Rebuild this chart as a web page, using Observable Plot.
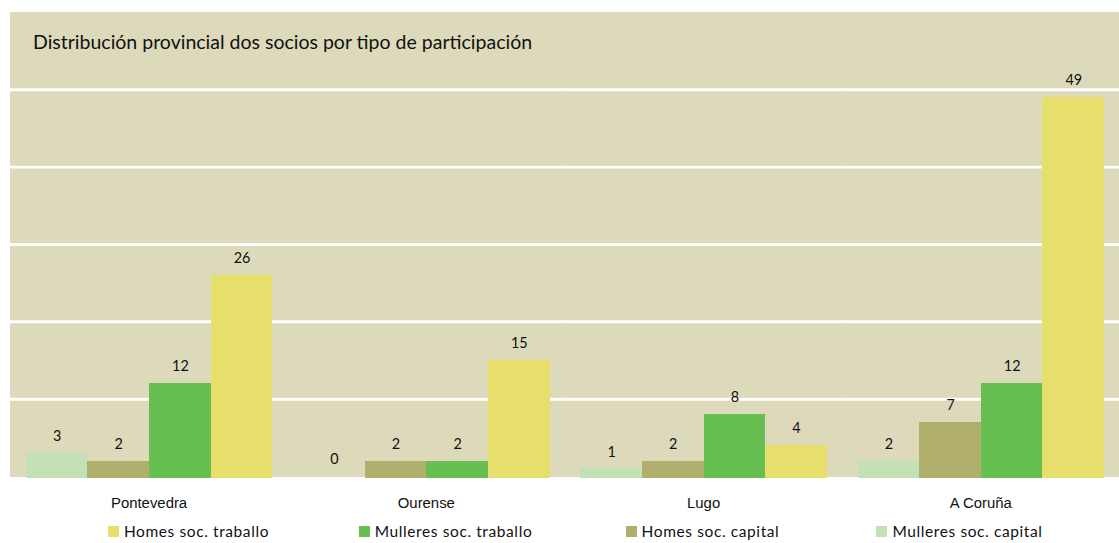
<!DOCTYPE html>
<html>
<head>
<meta charset="utf-8">
<script src="https://cdn.jsdelivr.net/npm/d3@7"></script>
<script src="https://cdn.jsdelivr.net/npm/@observablehq/plot@0.6"></script>
<style>
  html, body { margin: 0; padding: 0; background: #fff; }
  #wrap { position: relative; width: 1119px; height: 543px; overflow: hidden; }
  #title { position: absolute; left: 33px; top: 30px; font-family: Lato, "Noto Sans", sans-serif; font-size: 19.5px; color: #111; white-space: nowrap; }
  #legend { position: absolute; left: 60px; top: 522px; display: flex; }
  .item { width: 257px; height: 19px; display: flex; justify-content: center; align-items: center; font-family: Lato, "Noto Sans", sans-serif; font-size: 15.5px; line-height: 19px; letter-spacing: 0.6px; color: #111; white-space: nowrap; }
  .sw { width: 11px; height: 11px; margin-right: 5px; display: inline-block; }
  #chart svg rect { shape-rendering: crispEdges; }
</style>
</head>
<body>
<div id="wrap">
  <div id="chart"></div>
  <div id="title"></div>
  <div id="legend"></div>
</div>
<script>
const titleText = "Distribución provincial dos socios por tipo de participación";
const provinces = ["Pontevedra", "Ourense", "Lugo", "A Coruña"];
const series = ["Mulleres soc. capital", "Homes soc. capital", "Mulleres soc. traballo", "Homes soc. traballo"];
const colors = ["#C4E0B5", "#B0AF6B", "#67BE51", "#E7DF6B"];
const mulleresCapital = [3, 0, 1, 2];
const homesCapital = [2, 2, 2, 7];
const mulleresTraballo = [12, 2, 8, 12];
const homesTraballo = [26, 15, 4, 49];
const legendOrder = ["Homes soc. traballo", "Mulleres soc. traballo", "Homes soc. capital", "Mulleres soc. capital"];
const gridTicks = [10, 20, 30, 40, 50];

const seriesValues = [mulleresCapital, homesCapital, mulleresTraballo, homesTraballo];
const data = [];
provinces.forEach((p, i) => {
  series.forEach((s, j) => data.push({province: p, series: s, value: seriesValues[j][i]}));
});

const chart = Plot.plot({
  width: 1126,
  height: 515,
  marginLeft: 10,
  marginRight: 0,
  marginTop: 12,
  marginBottom: 36,
  style: {background: "transparent"},
  fx: {domain: provinces, padding: 0, label: null},
  x: {domain: series, axis: null, paddingInner: 0, paddingOuter: 0.22},
  y: {domain: [0, 60], axis: null},
  color: {domain: series, range: colors},
  marks: [
    Plot.frame({fill: "#DDD9BB", stroke: null}),
    Plot.ruleY(gridTicks, {stroke: "#fff", strokeWidth: 3}),
    Plot.barY(data.filter(d => d.value > 0), {fx: "province", x: "series", y: "value", fill: "series", insetBottom: -2}),
    Plot.text(data, {fx: "province", x: "series", y: "value", text: d => String(d.value), dy: -17, fontSize: 14.5, fill: "#111", fontFamily: "Lato, 'Noto Sans', sans-serif"}),
    Plot.axisFx({anchor: "bottom", tickSize: 0, tickPadding: 21, fontSize: 15, label: null, fontFamily: "'Liberation Sans Narrow', 'Liberation Sans', sans-serif", fill: "#111"})
  ]
});
document.getElementById("chart").appendChild(chart);
document.getElementById("title").textContent = titleText;

const legend = document.getElementById("legend");
legendOrder.forEach(name => {
  const it = document.createElement("div");
  it.className = "item";
  const sw = document.createElement("span");
  sw.className = "sw";
  sw.style.background = colors[series.indexOf(name)];
  const tx = document.createElement("span");
  tx.textContent = name;
  it.appendChild(sw);
  it.appendChild(tx);
  legend.appendChild(it);
});
</script>
</body>
</html>
